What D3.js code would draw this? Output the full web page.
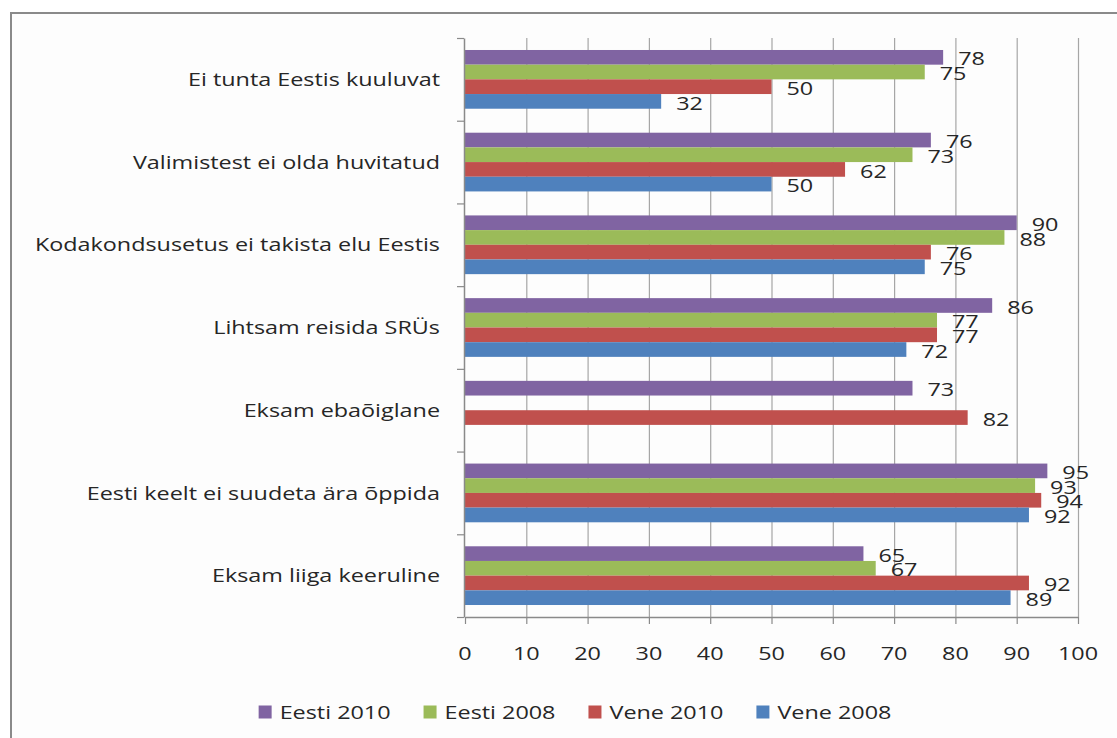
<!DOCTYPE html>
<html>
<head>
<meta charset="utf-8">
<script src="https://cdn.jsdelivr.net/npm/d3@7"></script>
<style>
  html, body { margin: 0; padding: 0; background: #fff; }
  svg { display: block; }
  text { font-family: "Open Sans", sans-serif; fill: #262626; }
</style>
</head>
<body>
<svg id="chart" width="1117" height="738"></svg>
<script>
const categories = [
  "Ei tunta Eestis kuuluvat",
  "Valimistest ei olda huvitatud",
  "Kodakondsusetus ei takista elu Eestis",
  "Lihtsam reisida SRÜs",
  "Eksam ebaõiglane",
  "Eesti keelt ei suudeta ära õppida",
  "Eksam liiga keeruline"
];
const seriesNames = ["Eesti 2010", "Eesti 2008", "Vene 2010", "Vene 2008"];
const eesti2010 = [78, 76, 90, 86, 73, 95, 65];
const eesti2008 = [75, 73, 88, 77, null, 93, 67];
const vene2010  = [50, 62, 76, 77, 82, 94, 92];
const vene2008  = [32, 50, 75, 72, null, 92, 89];
const xTicks = [0, 10, 20, 30, 40, 50, 60, 70, 80, 90, 100];
const colors = ["#8064A2", "#9BBB59", "#C0504D", "#4F81BD"];

const seriesValues = [eesti2010, eesti2008, vene2010, vene2008];
const FS = 19, SX = 1.23;

const svg = d3.select("#chart");

// outer chart border
svg.append("rect").attr("x", 11).attr("y", 13).attr("width", 1300).attr("height", 900)
  .attr("fill", "#fdfdfd").attr("stroke", "#8a8a8a").attr("stroke-width", 2);

const pLeft = 465, pRight = 1078, pTop = 38, pBottom = 617;
const x = d3.scaleLinear().domain([0, 100]).range([pLeft, pRight]);
const y = d3.scaleBand().domain(categories).range([pTop, pBottom]).paddingInner(0.29).paddingOuter(0.145);
const yInner = d3.scaleBand().domain(seriesNames).range([0, y.bandwidth()]);

// gridlines
svg.append("g").attr("transform", `translate(0,${pBottom})`)
  .call(d3.axisBottom(x).tickValues(xTicks.slice(1)).tickSize(-(pBottom - pTop)).tickFormat(""))
  .call(g => g.select(".domain").remove())
  .call(g => g.selectAll("line").attr("stroke", "#a6a6a6").attr("stroke-width", 1.2));

// bars
const groups = svg.append("g").selectAll("g").data(categories).join("g")
  .attr("transform", d => `translate(0,${y(d)})`);
seriesNames.forEach((s, si) => {
  groups.filter((d, i) => seriesValues[si][i] != null)
    .append("rect")
    .attr("x", x(0))
    .attr("y", yInner(s))
    .attr("height", yInner.bandwidth())
    .attr("width", (d) => x(seriesValues[si][categories.indexOf(d)]) - x(0))
    .attr("fill", colors[si]);
});

// data labels
seriesNames.forEach((s, si) => {
  groups.filter((d, i) => seriesValues[si][i] != null)
    .append("text")
    .attr("transform", d => `translate(${x(seriesValues[si][categories.indexOf(d)]) + 15},${yInner(s) + yInner.bandwidth() / 2 + 1.5}) scale(${SX},1)`)
    .attr("dy", "0.35em")
    .attr("font-size", FS)
    .text(d => seriesValues[si][categories.indexOf(d)]);
});

// bottom axis
const xAxis = svg.append("g").attr("transform", `translate(0,${pBottom})`)
  .call(d3.axisBottom(x).tickValues(xTicks).tickSize(7).tickSizeOuter(0).tickFormat(""));
xAxis.select(".domain").attr("stroke", "#8a8a8a").attr("stroke-width", 1.5);
xAxis.selectAll("line").attr("stroke", "#8a8a8a").attr("stroke-width", 1.2);
svg.append("g").selectAll("text").data(xTicks).join("text")
  .attr("transform", d => `translate(${x(d)},${653}) scale(${SX},1)`)
  .attr("text-anchor", "middle").attr("dy", "0.35em").attr("font-size", FS)
  .text(d => d);

// left axis with boundary ticks
const yEdge = d3.scaleLinear().domain([0, categories.length]).range([pTop, pBottom]);
const yAxis = svg.append("g").attr("transform", `translate(${pLeft - 1},0)`)
  .call(d3.axisLeft(yEdge).tickValues(d3.range(categories.length + 1)).tickSize(7).tickSizeOuter(0).tickFormat(""));
yAxis.select(".domain").attr("stroke", "#8a8a8a").attr("stroke-width", 1.5);
yAxis.selectAll("line").attr("stroke", "#8a8a8a").attr("stroke-width", 1.2);

// category labels
svg.append("g").selectAll("text").data(categories).join("text")
  .attr("transform", d => `translate(440,${y(d) + y.bandwidth() / 2}) scale(${SX},1)`)
  .attr("text-anchor", "end").attr("dy", "0.35em").attr("font-size", FS)
  .text(d => d);

// legend
const legend = svg.append("g");
const items = legend.selectAll("g").data(seriesNames).join("g");
items.append("rect").attr("width", 13).attr("height", 13).attr("y", -6.5)
  .attr("fill", (d, i) => colors[i]);
items.append("text").attr("transform", `translate(21,0) scale(${SX},1)`)
  .attr("dy", "0.35em").attr("font-size", FS).text(d => d);
const widths = [];
items.each(function () {
  const w = 21 + this.querySelector("text").getComputedTextLength() * SX;
  widths.push(w);
});
const gap = 33;
const total = d3.sum(widths) + gap * (widths.length - 1);
let cx = 575 - total / 2;
items.attr("transform", (d, i) => {
  const t = `translate(${cx},712)`;
  cx += widths[i] + gap;
  return t;
});
</script>
</body>
</html>
